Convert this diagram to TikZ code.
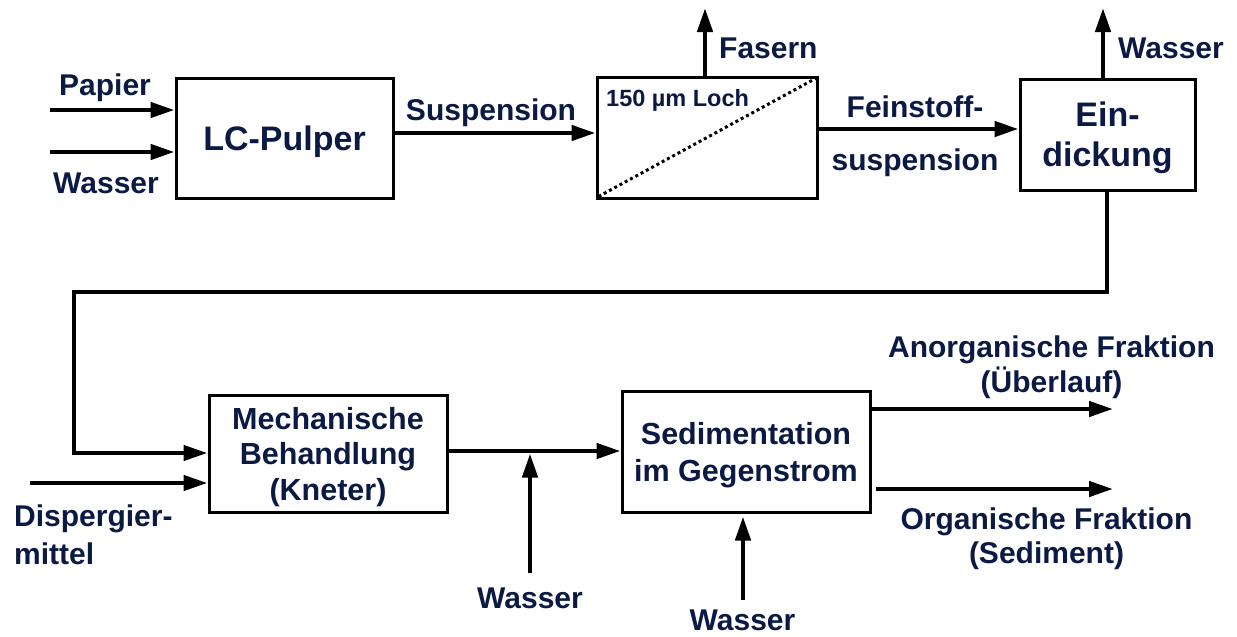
\documentclass[tikz,border=0pt]{standalone}
\usepackage{fontspec}
\setmainfont{Liberation Sans}
\usetikzlibrary{arrows.meta,calc}
\definecolor{navy}{HTML}{0B1A44}
\begin{document}
\begin{tikzpicture}[x=1pt,y=-1pt,
  box/.style={draw=black, line width=3pt, rectangle, inner sep=0pt, text=navy, align=center, text depth=0pt},
  bigtxt/.style={font=\fontsize{34}{40}\selectfont\bfseries},
  lbl/.style={text=navy, inner sep=0pt, font=\fontsize{30}{35}\selectfont\bfseries},
  arr/.style={line width=4.5pt, -{Triangle[length=24pt,width=15pt]}, line join=miter},
]
\useasboundingbox (0,0) rectangle (1237,637);

% boxes
\node[box, bigtxt, minimum width=217pt, minimum height=120pt] (pulper) at (284.5,138) {LC-Pulper};
\node[box, minimum width=220pt, minimum height=121pt] (screen) at (707,137.5) {};
\node[box, bigtxt, minimum width=175pt, minimum height=111pt] (eind) at (1107.5,134.5) {Ein-\\dickung};
\node[box, font=\fontsize{30.5}{35.5}\selectfont\bfseries, minimum width=238pt, minimum height=117pt] (mech) at (328,453.5) {Mechanische\\Behandlung\\(Kneter)};
\node[box, font=\fontsize{30.5}{37}\selectfont\bfseries, minimum width=248pt, minimum height=121pt] (sed) at (746,451.5) {Sedimentation\\im Gegenstrom};

% screen interior
\node[anchor=base west, inner sep=0pt, text=navy, font=\fontsize{23.5}{28}\selectfont\bfseries] (loch) at (606,106) {150 µm Loch};
\draw[line width=3pt, dash pattern=on 3pt off 3pt] ([shift={(3,-3)}]screen.south west) -- ([shift={(-3,3)}]screen.north east);

% labels
\node[lbl, anchor=base] (papier) at (105,95) {Papier};
\node[lbl, anchor=base] (wasserA) at (106,193) {Wasser};
\node[lbl, anchor=base] (susp) at (491,120) {Suspension};
\node[lbl, anchor=base west] (fasern) at (719,58) {Fasern};
\node[lbl, anchor=base west] (wasserB) at (1118,58) {Wasser};
\node[lbl, align=center, text depth=0pt, font=\fontsize{30}{53}\selectfont\bfseries] (fein) at (915,133) {Feinstoff-\\suspension};
\node[lbl, align=center, text depth=0pt] (anorg) at (1051.5,364) {Anorganische Fraktion\\(Überlauf)};
\node[lbl, align=center, text depth=0pt, font=\fontsize{30}{34}\selectfont\bfseries] (org) at (1046.5,535.5) {Organische Fraktion\\(Sediment)};
\node[lbl, align=left, text depth=0pt, anchor=west, font=\fontsize{30}{38}\selectfont\bfseries] (disp) at (14,535) {Dispergier-\\mittel};
\node[lbl, anchor=base] (wasserC) at (530,608) {Wasser};
\node[lbl, anchor=base] (wasserD) at (742.5,630) {Wasser};

% coordinates
\coordinate (pa) at (50,110);
\coordinate (wa) at (50,152);
\coordinate (sy) at (0,133);
\coordinate (fas) at (705,8);
\coordinate (ew) at (1103,8);
\coordinate (fy) at (0,129);
\coordinate (l1) at (1107,292);
\coordinate (l2) at (74,292);
\coordinate (l3) at (74,453);
\coordinate (da) at (30,483);
\coordinate (my) at (0,451);
\coordinate (w1) at (530,573);
\coordinate (w1t) at (530,453.5);
\coordinate (w2) at (743,600);
\coordinate (ao) at (1113,409);
\coordinate (oo) at (1113,489);

% connectors
\draw[arr] (pa) -- (pa -| pulper.west);
\draw[arr] (wa) -- (wa -| pulper.west);
\draw[arr] (pulper.east |- sy) -- (screen.west |- sy);
\draw[arr] (fas |- screen.north) -- (fas);
\draw[arr] (ew |- eind.north) -- (ew);
\draw[arr] (screen.east |- fy) -- (eind.west |- fy);
\draw[arr] (eind.south -| l1) -- (l1) -- (l2) -- (l3) -- (l3 -| mech.west);
\draw[arr] (da) -- (da -| mech.west);
\draw[arr] (mech.east |- my) -- (sed.west |- my);
\draw[arr] (w1) -- (w1t);
\draw[arr, shorten >=3pt] (w2) -- (w2 |- sed.south);
\draw[arr] (sed.east |- ao) -- (ao);
\draw[arr, shorten <=4pt] (sed.east |- oo) -- (oo);
\end{tikzpicture}
\end{document}
